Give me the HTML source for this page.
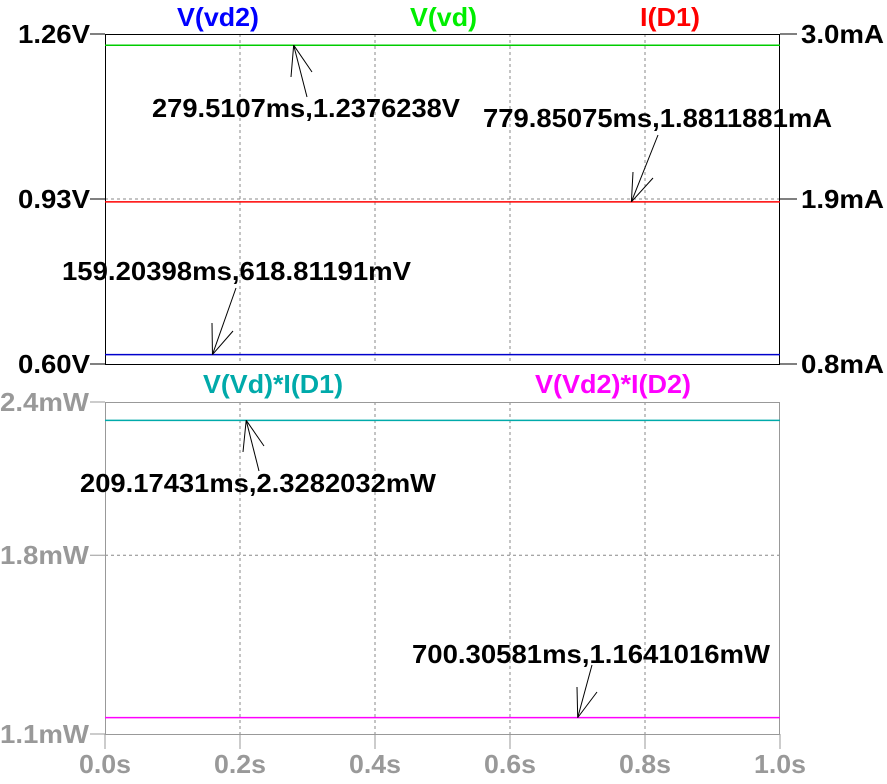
<!DOCTYPE html>
<html><head><meta charset="utf-8"><style>
html,body{margin:0;padding:0;background:#fff;}
svg{display:block;font-family:"Liberation Sans",Arial,sans-serif;font-weight:bold;}
</style></head><body>
<svg id="chart" width="887" height="784" xmlns="http://www.w3.org/2000/svg"></svg>
<script>
const xTicks=[0,0.2,0.4,0.6,0.8,1.0];
const xTickLabels=["0.0s","0.2s","0.4s","0.6s","0.8s","1.0s"];
const topVTicks=[1.26,0.93,0.60];
const topVLabels=["1.26V","0.93V","0.60V"];
const topITicks=[3.0,1.9,0.8];
const topILabels=["3.0mA","1.9mA","0.8mA"];
const botTicks=[2.4,1.8,1.1];
const botLabels=["2.4mW","1.8mW","1.1mW"];
const vVd=[1.2376238];
const vVd2=[0.61881191];
const iD1=[1.8811881];
const pD1=[2.3282032];
const pD2=[1.1641016];

const svg=document.getElementById('chart');
const NS='http://www.w3.org/2000/svg';
function mk(t,a,p){const e=document.createElementNS(NS,t);for(const k in a)e.setAttribute(k,a[k]);(p||svg).appendChild(e);return e;}
const X0=105,X1=780;
const xs=v=>X0+(v-xTicks[0])/(xTicks[5]-xTicks[0])*(X1-X0);
const yV=v=>34+(1.26-v)/(1.26-0.60)*330;
const yI=v=>34+(3.0-v)/(3.0-0.8)*330;
const yP=v=>402+(2.4-v)/(2.4-1.1)*332;

function txt(s,x,y,w,fill,name,anchor){
  const e=mk('text',{x:x,y:y,'font-size':26,fill:fill,textLength:w,lengthAdjust:'spacingAndGlyphs'});
  if(anchor)e.setAttribute('text-anchor',anchor);
  e.textContent=s;
  
  
  return e;
}
function line(x1,y1,x2,y2,stroke,name,dash,w){
  const e=mk('line',{x1:x1,y1:y1,x2:x2,y2:y2,stroke:stroke,'stroke-width':w||1});
  if(dash)e.setAttribute('stroke-dasharray',dash);
  
  
  return e;
}
// grids
xTicks.slice(1,5).forEach((t,i)=>{
  line(xs(t),34,xs(t),364,'#888','top-x-grid','3,3');
  line(xs(t),402,xs(t),734,'#888','bottom-x-grid','3,3');
});
xTicks.forEach(t=>{line(xs(t),734,xs(t),749,'#999','x-tick');});
line(X0,yV(topVTicks[1]),X1,yV(topVTicks[1]),'#888','top-y-grid','3,3');
line(X0,yP(botTicks[1]),X1,yP(botTicks[1]),'#888','bottom-y-grid','3,3');
// frames
let f=mk('rect',{x:X0+0.5,y:34.5,width:X1-X0-1,height:330,fill:'none',stroke:'#000'});

f=mk('rect',{x:X0+0.5,y:402.5,width:X1-X0-1,height:332,fill:'none',stroke:'#999'});

// ticks & labels
topVTicks.forEach((v,i)=>{const y=yV(v);line(90,y,X0,y,'#000','left-tick');txt(topVLabels[i],18,y+9,72,'#000','left-y-label');});
topITicks.forEach((v,i)=>{const y=yI(v);line(X1,y,797,y,'#000','right-tick');txt(topILabels[i],801,y+9,83,'#000','right-y-label');});
botTicks.forEach((v,i)=>{const y=yP(v);line(90,y,X0,y,'#999','bottom-left-tick');txt(botLabels[i],0,y+9,89,'#999','bottom-y-label');});
xTicks.forEach((t,i)=>{txt(xTickLabels[i],xs(t),773,52,'#999','x-tick-label','middle');});
// traces
line(X0,yV(vVd[0]),X1,yV(vVd[0]),'#00cc00','trace-v-vd',null,1.5);
line(X0,yI(iD1[0]),X1,yI(iD1[0]),'#ff0000','trace-i-d1',null,1.5);
line(X0,yV(vVd2[0]),X1,yV(vVd2[0]),'#0000cc','trace-v-vd2',null,1.5);
line(X0,yP(pD1[0]),X1,yP(pD1[0]),'#00aaaa','trace-p-d1',null,1.5);
line(X0,yP(pD2[0]),X1,yP(pD2[0]),'#ff00ff','trace-p-d2',null,1.5);
// legends
txt('V(vd2)',177,26,82,'#0000ff','legend-v-vd2');
txt('V(vd)',410,26,67,'#00ee00','legend-v-vd');
txt('I(D1)',640,26,60,'#ff0000','legend-i-d1');
txt('V(Vd)*I(D1)',203,393,140,'#00aaaa','legend-p-d1');
txt('V(Vd2)*I(D2)',535,393,156,'#ff00ff','legend-p-d2');
// annotations
function ann(s,tx,ty,tw,tip,tail,h1,h2,name){
  txt(s,tx,ty,tw,'#000',name);
  line(tip[0],tip[1],tail[0],tail[1],'#000',name+'-arrow');
  line(tip[0],tip[1],h1[0],h1[1],'#000',name+'-arrowhead');
  line(tip[0],tip[1],h2[0],h2[1],'#000',name+'-arrowhead');
}
ann('279.5107ms,1.2376238V',152,117,308,[xs(0.2795107),yV(vVd[0])],[307,97],[291,77],[312,72],'cursor-label-vd');
ann('779.85075ms,1.8811881mA',483,127,349,[xs(0.77985075),yI(iD1[0])],[658,135],[633,172],[653,178],'cursor-label-id1');
ann('159.20398ms,618.81191mV',62,280,349,[xs(0.15920398),yV(vVd2[0])],[236,288],[212,323],[233,331],'cursor-label-vd2');
ann('209.17431ms,2.3282032mW',80,492,356,[xs(0.20917431),yP(pD1[0])],[259,471],[243,452],[264,446],'cursor-label-pd1');
ann('700.30581ms,1.1641016mW',412,663,358,[xs(0.70030581),yP(pD2[0])],[592,665],[577,687],[597,692],'cursor-label-pd2');
</script>
</body></html>
